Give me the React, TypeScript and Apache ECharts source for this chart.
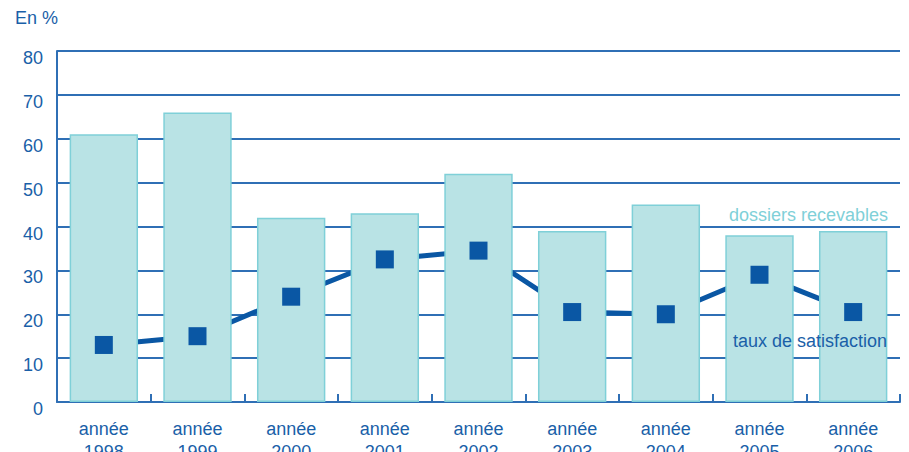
import React, { useEffect, useRef } from "react";
import * as echarts from "echarts";

const categories = ["année\n1998", "année\n1999", "année\n2000", "année\n2001", "année\n2002", "année\n2003", "année\n2004", "année\n2005", "année\n2006"];
const dossiersRecevables = [61, 66, 42, 43, 52, 39, 45, 38, 39];
const tauxSatisfaction = [13, 15, 24, 32.5, 34.5, 20.5, 20, 29, 20.5];
const yTicks = [0, 10, 20, 30, 40, 50, 60, 70, 80];

const DARK = "#0a57a4";
const TEXT = "#1a5fa8";
const AXIS = "#2f6fb5";
const CYAN = "#7fd0d8";
const FILL = "#b9e3e5";
const FONT = "Liberation Sans, Arial, sans-serif";

export default function App() {
  const ref = useRef<HTMLDivElement>(null);
  useEffect(() => {
    if (!ref.current) return;
    const chart = echarts.init(ref.current, null, { renderer: "svg" });
    chart.setOption({
      animation: false,
      grid: { left: 57, right: 9, top: 51, bottom: 50, containLabel: false, outerBoundsMode: "none" },
      xAxis: {
        type: "category",
        data: categories,
        axisLine: { show: true, lineStyle: { color: AXIS, width: 2 } },
        axisTick: { show: true, inside: true, length: 8, alignWithLabel: false, lineStyle: { color: AXIS, width: 2 } },
        axisLabel: { color: TEXT, fontSize: 18, fontFamily: FONT, lineHeight: 23, margin: 15, interval: 0 },
        splitLine: { show: false },
      },
      yAxis: {
        type: "value",
        min: yTicks[0],
        max: yTicks[yTicks.length - 1],
        interval: 10,
        axisLine: { show: true, lineStyle: { color: AXIS, width: 2 } },
        axisTick: { show: false },
        axisLabel: { color: TEXT, fontSize: 18, fontFamily: FONT, margin: 14, verticalAlign: "top", padding: [-2, 0, 0, 0] },
        splitLine: { show: true, lineStyle: { color: AXIS, width: 2 } },
      },
      graphic: [
        { type: "text", left: 15, top: 9, style: { text: "En %", fill: TEXT, fontSize: 18, fontFamily: FONT } },
        { type: "text", right: 21, top: 206, style: { text: "dossiers recevables", fill: CYAN, fontSize: 18, fontFamily: FONT } },
        { type: "text", right: 22, top: 332, z: 100, style: { text: "taux de satisfaction", fill: TEXT, fontSize: 18, fontFamily: FONT } },
      ],
      series: [
        {
          type: "line",
          data: tauxSatisfaction,
          z: 1,
          symbol: "none",
          lineStyle: { color: DARK, width: 5 },
          silent: true,
        },
        {
          type: "bar",
          data: dossiersRecevables,
          z: 2,
          barCategoryGap: "27%",
          itemStyle: { color: FILL, borderColor: CYAN, borderWidth: 1.5 },
        },
        {
          type: "line",
          data: tauxSatisfaction,
          z: 3,
          symbol: "rect",
          symbolSize: 18,
          itemStyle: { color: DARK },
          lineStyle: { width: 0, opacity: 0 },
        },
      ],
    });
    return () => chart.dispose();
  }, []);
  return <div ref={ref} style={{ width: 909, height: 452, position: "absolute", left: 0, top: 0 }} />;
}
